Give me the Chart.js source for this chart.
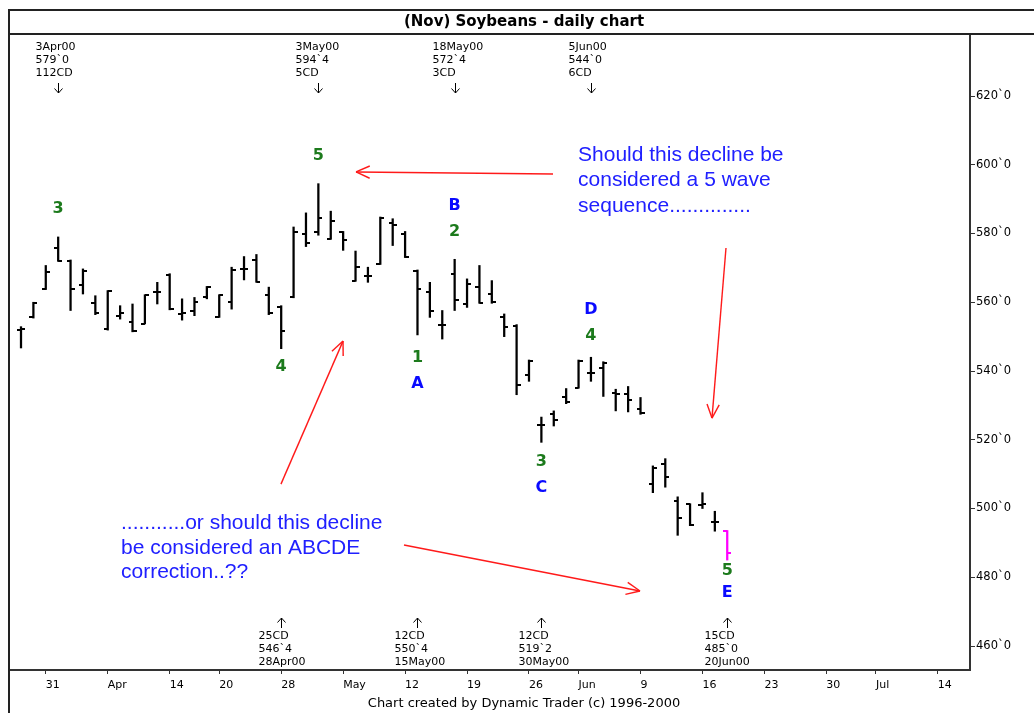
<!DOCTYPE html>
<html><head><meta charset="utf-8">
<script src="https://cdn.jsdelivr.net/npm/chart.js@4/dist/chart.umd.min.js"></script>
<style>html,body{margin:0;padding:0;background:#fff;}canvas{display:block;}</style>
</head><body>
<canvas id="c" width="1034" height="713"></canvas>
<script>
// ---- data (trading-day index = position in these arrays) ----
const dates = ['29Mar00','30Mar00','31Mar00','3Apr00','4Apr00','5Apr00','6Apr00','7Apr00',
  '10Apr00','11Apr00','12Apr00','13Apr00','14Apr00','17Apr00','18Apr00','19Apr00','20Apr00',
  '24Apr00','25Apr00','26Apr00','27Apr00','28Apr00','1May00','2May00','3May00','4May00','5May00',
  '8May00','9May00','10May00','11May00','12May00','15May00','16May00','17May00','18May00','19May00',
  '22May00','23May00','24May00','25May00','26May00','30May00','31May00','1Jun00','2Jun00',
  '5Jun00','6Jun00','7Jun00','8Jun00','9Jun00','12Jun00','13Jun00','14Jun00','15Jun00','16Jun00',
  '19Jun00','20Jun00'];
const opens  = [551.9,555.6,563.9,575.8,572.0,564.9,559.7,552.1,556.0,554.2,553.7,562.9,568.0,556.5,557.4,561.6,555.8,
  560.2,569.7,572.3,562.2,558.5,561.5,580.0,580.4,578.5,580.4,566.3,567.5,571.2,583.0,580.0,569.0,562.9,553.5,568.3,559.5,
  564.4,562.4,555.6,553.0,538.9,524.2,527.4,532.3,535.2,539.3,541.0,533.5,533.3,528.9,507.2,513.0,502.2,501.2,501.0,496.1,493.4];
const highs  = [552.9,560.0,570.7,579.0,572.3,569.7,561.9,563.4,559.0,559.5,562.2,565.8,568.3,561.0,561.4,564.6,562.2,
  570.2,573.3,573.9,564.4,559.0,581.9,586.0,594.5,586.5,580.6,574.9,570.2,584.8,584.3,580.6,569.4,565.8,557.6,572.5,566.8,
  570.7,566.3,556.6,553.5,543.2,526.6,528.4,534.9,543.2,544.0,542.7,534.7,535.5,532.3,512.4,514.5,503.4,501.4,504.6,499.2,493.6];
const lows   = [546.7,555.4,563.7,571.9,557.6,562.4,556.4,551.9,555.1,551.4,553.7,559.5,557.8,554.8,556.1,561.0,555.6,
  558.0,566.5,565.8,556.4,546.5,561.3,576.2,579.5,578.3,575.1,566.1,565.8,571.0,576.5,573.0,550.5,555.6,549.3,557.6,558.5,
  559.7,559.7,550.0,533.1,537.0,519.25,524.0,530.5,535.0,537.0,532.6,528.4,528.1,527.4,504.6,506.2,492.2,495.0,500.0,493.4,485.0];
const closes = [552.1,559.7,568.8,572.1,563.9,569.2,556.8,563.2,557.0,551.5,562.0,562.9,558.0,557.0,560.0,564.4,562.0,
  569.4,569.7,566.0,556.8,551.7,580.4,577.2,584.5,583.6,578.0,570.2,567.5,584.6,582.4,573.3,563.9,557.4,553.5,560.7,565.2,
  559.7,560.0,552.7,536.0,542.8,524.2,525.7,531.1,543.0,539.3,542.3,533.3,531.5,527.9,511.9,509.2,497.1,495.3,501.4,496.1,487.1];

// x-axis ticks (trading-day index of each weekly tick) and their labels
const xTickIdx    = [2, 7, 12, 16, 21, 26, 31, 36, 41, 45, 50, 55, 60, 65, 69, 74];
const xTickLabels = ['31','Apr','14','20','28','May','12','19','26','Jun','9','16','23','30','Jul','14'];
// y-axis ticks
const yTickVals = [460, 480, 500, 520, 540, 560, 580, 600, 620];

const titleText = '(Nov) Soybeans - daily chart';
const creditText = 'Chart created by Dynamic Trader (c) 1996-2000';

// swing callouts
const topNotes = [
  {idx:3,  lines:['3Apr00', '579`0', '112CD']},
  {idx:24, lines:['3May00', '594`4', '5CD']},
  {idx:35, lines:['18May00','572`4', '3CD']},
  {idx:46, lines:['5Jun00', '544`0', '6CD']}
];
const bottomNotes = [
  {idx:21, lines:['25CD','546`4','28Apr00']},
  {idx:32, lines:['12CD','550`4','15May00']},
  {idx:42, lines:['12CD','519`2','30May00']},
  {idx:57, lines:['15CD','485`0','20Jun00']}
];
// wave labels (index, price level)
const GREEN = '#1c7a1c', BLUE = '#0a0aff';
const waveLabels = [
  {t:'3', idx:3,  v:587.1, c:GREEN},
  {t:'5', idx:24, v:602.5, c:GREEN},
  {t:'4', idx:21, v:541.2, c:GREEN},
  {t:'B', idx:35, v:588.0, c:BLUE},
  {t:'2', idx:35, v:580.6, c:GREEN},
  {t:'1', idx:32, v:543.8, c:GREEN},
  {t:'A', idx:32, v:536.2, c:BLUE},
  {t:'D', idx:46, v:557.9, c:BLUE},
  {t:'4', idx:46, v:550.2, c:GREEN},
  {t:'3', idx:42, v:513.5, c:GREEN},
  {t:'C', idx:42, v:506.0, c:BLUE},
  {t:'5', idx:57, v:481.8, c:GREEN},
  {t:'E', idx:57, v:475.6, c:BLUE}
];
// red arrows: from -> to (index, price)
const redArrows = [
  {from:[42.94, 597.3], to:[27.04, 597.9]},
  {from:[20.98, 507.1], to:[25.99, 548.7]},
  {from:[56.90, 575.8], to:[55.77, 526.3]},
  {from:[30.91, 489.4], to:[49.96, 476.0]}
];
// blue comment texts
const comments = [
  {idx:44.96, v:601.1, gap:25.5, lines:['Should this decline be','considered a 5 wave','sequence..............']},
  {idx:8.07,  v:494.0, gap:24.5, lines:['...........or should this decline','be considered an ABCDE','correction..??']}
];

// ---- tick images for open (left) / close (right) ----
function tickImg(side, color){
  const c = document.createElement('canvas'); c.width = 8; c.height = 2;
  const g = c.getContext('2d'); g.fillStyle = color;
  if (side === 'L') g.fillRect(0,0,4,2); else g.fillRect(4,0,4,2);
  return c;
}
const lastIdx = dates.length - 1;
const barColor = i => i === lastIdx ? '#ff00ff' : '#000000';
const openStyles  = dates.map((d,i)=>tickImg('L', barColor(i)));
const closeStyles = dates.map((d,i)=>tickImg('R', barColor(i)));

const decor = {
  id:'decor',
  beforeDraw(chart){
    const ctx = chart.ctx; ctx.save(); ctx.fillStyle='#fff'; ctx.fillRect(0,0,chart.width,chart.height); ctx.restore();
  },
  afterDraw(chart){
    const ctx = chart.ctx, xs = chart.scales.x, ys = chart.scales.y;
    const px = i => xs.getPixelForValue(i), py = v => ys.getPixelForValue(v);
    const line = (x1,y1,x2,y2) => { ctx.beginPath(); ctx.moveTo(x1,y1); ctx.lineTo(x2,y2); ctx.stroke(); };
    ctx.save();
    // frame
    ctx.strokeStyle = '#222'; ctx.lineWidth = 2;
    line(9, 9, 9, 713); line(8, 10, 1034, 10); line(8, 34, 1034, 34);
    // title & credit
    ctx.fillStyle = '#000'; ctx.textAlign = 'center'; ctx.textBaseline = 'middle';
    ctx.font = 'bold 15px "DejaVu Sans"'; ctx.fillText(titleText, 524, 22);
    ctx.font = '13px "DejaVu Sans"'; ctx.fillText(creditText, 524, 704);
    // callouts
    ctx.font = '11px "DejaVu Sans"'; ctx.textAlign = 'left'; ctx.lineWidth = 1; ctx.strokeStyle = '#000';
    topNotes.forEach(n => {
      const x = Math.round(px(n.idx)) + 0.5;
      n.lines.forEach((s,k) => ctx.fillText(s, x - 23, 47 + k*13.3));
      line(x, 83, x, 93); line(x-4, 88.5, x, 93); line(x+4, 88.5, x, 93);
    });
    bottomNotes.forEach(n => {
      const x = Math.round(px(n.idx)) + 0.5;
      n.lines.forEach((s,k) => ctx.fillText(s, x - 23, 636 + k*13.3));
      line(x, 618, x, 628); line(x-4, 622.5, x, 618); line(x+4, 622.5, x, 618);
    });
    // wave labels
    ctx.font = 'bold 16px "DejaVu Sans"'; ctx.textAlign = 'center';
    waveLabels.forEach(w => { ctx.fillStyle = w.c; ctx.fillText(w.t, px(w.idx), py(w.v)); });
    // red arrows
    ctx.strokeStyle = '#ff1a1a'; ctx.lineWidth = 1.4;
    redArrows.forEach(a => {
      const x1 = px(a.from[0]), y1 = py(a.from[1]), x2 = px(a.to[0]), y2 = py(a.to[1]);
      line(x1,y1,x2,y2);
      const ang = Math.atan2(y2-y1, x2-x1), L = 15, sp = 0.42;
      line(x2, y2, x2 - L*Math.cos(ang-sp), y2 - L*Math.sin(ang-sp));
      line(x2, y2, x2 - L*Math.cos(ang+sp), y2 - L*Math.sin(ang+sp));
    });
    // comments
    ctx.fillStyle = '#2020ff'; ctx.font = '21px "Liberation Sans"'; ctx.textAlign = 'left'; ctx.textBaseline = 'alphabetic';
    comments.forEach(cm => {
      cm.lines.forEach((s,k) => ctx.fillText(s, px(cm.idx), py(cm.v) + k*cm.gap));
    });
    ctx.restore();
  }
};

const idx = dates.map((d,i)=>i);
new Chart(document.getElementById('c'), {
  type: 'bar',
  data: {
    datasets: [
      { type:'bar', label:'range', data: idx.map(i=>({x:i, y:[lows[i], highs[i]]})),
        backgroundColor: idx.map(barColor), barThickness: 1.6, borderWidth: 0, order: 2 },
      { type:'scatter', label:'open', data: idx.map(i=>({x:i, y:opens[i]})),
        pointStyle: openStyles, pointRadius: 3, order: 1 },
      { type:'scatter', label:'close', data: idx.map(i=>({x:i, y:closes[i]})),
        pointStyle: closeStyles, pointRadius: 3, order: 1 }
    ]
  },
  options: {
    responsive: false, animation: false, devicePixelRatio: 1,
    layout: { padding: { left: 9, top: 34, right: 0, bottom: 0 } },
    plugins: { legend: { display: false }, tooltip: { enabled: false } },
    scales: {
      x: {
        type: 'linear', position: 'bottom', min: -0.9685, max: 76.594, offset: false,
        afterBuildTicks: s => { s.ticks = xTickIdx.map(v => ({value: v})); },
        afterFit: s => { s.height = 43; },
        ticks: { autoSkip: false, maxRotation: 0, align: 'start', padding: 5, color: '#000',
          font: { family: 'DejaVu Sans', size: 11 },
          callback: (v, i) => xTickLabels[i] },
        grid: { drawOnChartArea: false, drawTicks: true, tickLength: 4, color: '#333', offset: false },
        border: { display: true, color: '#333', width: 2 }
      },
      y: {
        type: 'linear', position: 'right', min: 453.02, max: 638.04,
        afterBuildTicks: s => { s.ticks = yTickVals.map(v => ({value: v})); },
        afterFit: s => { s.width = 64; },
        ticks: { padding: 1, color: '#000', font: { family: 'DejaVu Sans', size: 11.5 },
          callback: v => v + '`0' },
        grid: { drawOnChartArea: false, drawTicks: true, tickLength: 5, color: '#333' },
        border: { display: true, color: '#333', width: 2 }
      }
    }
  },
  plugins: [decor]
});
</script>
</body></html>
